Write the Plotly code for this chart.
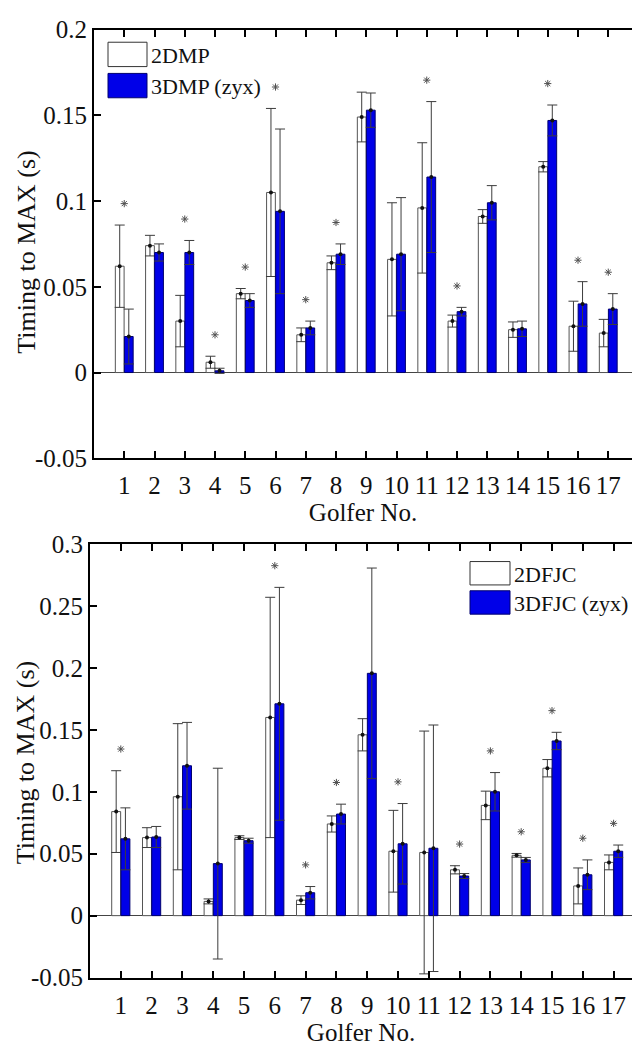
import plotly.graph_objects as go

W, H = 632, 1052

golfers = list(range(1, 18))
tick_text = [str(g) for g in golfers]

# Panel 1: 2DMP vs 3DMP (zyx)
mp2_mean = [0.062, 0.074, 0.030, 0.006, 0.046, 0.105, 0.022, 0.064, 0.149, 0.066, 0.096,
            0.030, 0.091, 0.025, 0.120, 0.027, 0.023]
mp2_sd = [0.024, 0.006, 0.015, 0.0035, 0.003, 0.049, 0.004, 0.004, 0.0145, 0.033, 0.038,
          0.0035, 0.004, 0.0045, 0.003, 0.0146, 0.008]
mp3_mean = [0.021, 0.070, 0.070, 0.001, 0.042, 0.094, 0.026, 0.069, 0.153, 0.069, 0.114,
            0.0355, 0.099, 0.0255, 0.147, 0.040, 0.037]
mp3_sd = [0.016, 0.005, 0.007, 0.0015, 0.004, 0.048, 0.004, 0.006, 0.010, 0.033, 0.044,
          0.0025, 0.010, 0.0045, 0.009, 0.013, 0.009]
mp_sig = [1, 3, 4, 5, 6, 7, 8, 11, 12, 15, 16, 17]

# Panel 2: 2DFJC vs 3DFJC (zyx)
fjc2_mean = [0.084, 0.063, 0.096, 0.0115, 0.063, 0.160, 0.0125, 0.074, 0.146, 0.052, 0.051,
             0.037, 0.089, 0.0487, 0.119, 0.024, 0.043]
fjc2_sd = [0.033, 0.008, 0.059, 0.002, 0.0015, 0.097, 0.0035, 0.0065, 0.013, 0.033, 0.098,
           0.0033, 0.0115, 0.0015, 0.007, 0.0145, 0.006]
fjc3_mean = [0.062, 0.0635, 0.121, 0.042, 0.0605, 0.171, 0.0185, 0.082, 0.1956, 0.058, 0.0544,
             0.032, 0.100, 0.045, 0.141, 0.033, 0.052]
fjc3_sd = [0.025, 0.0085, 0.035, 0.077, 0.002, 0.094, 0.005, 0.008, 0.085, 0.0325, 0.0995,
           0.002, 0.0155, 0.002, 0.007, 0.012, 0.005]
fjc_sig = [1, 6, 7, 8, 10, 12, 13, 14, 15, 16, 17]

series_names = [["2DMP", "3DMP (zyx)"], ["2DFJC", "3DFJC (zyx)"]]
x_title = "Golfer No."
y_title = "Timing to MAX (s)"
fill_colors = ["#ffffff", "#0000e8"]
edge_colors = ["#555555", "#00006e"]

FONT = "'Liberation Serif', 'Times New Roman', 'DejaVu Serif', serif"
OFFSET = 0.15
BAR_W = 0.29


def px_x(p):
    return p / W


def px_y(p):
    return 1 - p / H


panels = [
    dict(means=(mp2_mean, mp3_mean), sds=(mp2_sd, mp3_sd), sig=mp_sig,
         xdom=(94, W), x_unit=30.25, ytop=17, ybot=457, yrange=(-0.05, 0.2),
         ytick=[-0.05, 0, 0.05, 0.1, 0.15, 0.2],
         ytext=["-0.05", "0", "0.05", "0.1", "0.15", "0.2"],
         ylab=(27, 246),
         legend=dict(x=108, y=30, w=39, h=25, gap=7)),
    dict(means=(fjc2_mean, fjc3_mean), sds=(fjc2_sd, fjc3_sd), sig=fjc_sig,
         xdom=(90, W), x_unit=30.8, ytop=545, ybot=990, yrange=(-0.05, 0.3),
         ytick=[-0.05, 0, 0.05, 0.1, 0.15, 0.2, 0.25, 0.3],
         ytext=["-0.05", "0", "0.05", "0.1", "0.15", "0.2", "0.25", "0.3"],
         ylab=(25, 770),
         legend=dict(x=470, y=563, w=40, h=24, gap=6)),
]

fig = go.Figure()
shapes = []
annotations = []

for i, p in enumerate(panels):
    xa = "x" if i == 0 else "x2"
    ya = "y" if i == 0 else "y2"
    for k in range(2):
        xs = [g + (2 * k - 1) * OFFSET for g in golfers]
        fig.add_trace(go.Bar(
            x=xs, y=p["means"][k], width=BAR_W, xaxis=xa, yaxis=ya,
            name=series_names[i][k], showlegend=False,
            marker=dict(color=fill_colors[k], line=dict(color=edge_colors[k], width=1)),
            error_y=dict(type="data", array=p["sds"][k], visible=True,
                         color="#3c3c3c", thickness=1, width=5),
        ))
    # mean markers on top of each bar
    for k in range(2):
        xs = [g + (2 * k - 1) * OFFSET for g in golfers]
        fig.add_trace(go.Scatter(
            x=xs, y=p["means"][k], mode="markers", xaxis=xa, yaxis=ya,
            showlegend=False, hoverinfo="skip",
            marker=dict(color="#111111", size=4),
        ))
    # significance asterisks above the taller whisker
    tops = [max(p["means"][0][j] + p["sds"][0][j], p["means"][1][j] + p["sds"][1][j])
            for j in range(len(golfers))]
    span = p["yrange"][1] - p["yrange"][0]
    sx = [g for g in p["sig"]]
    sy = [tops[g - 1] + 0.05 * span for g in p["sig"]]
    fig.add_trace(go.Scatter(
        x=sx, y=sy, mode="markers", xaxis=xa, yaxis=ya, showlegend=False,
        hoverinfo="skip",
        marker=dict(symbol="asterisk-open", size=6, color="#505050",
                    line=dict(color="#505050", width=1)),
    ))

    # legend: swatches and labels
    lg = p["legend"]
    for k in range(2):
        y0 = lg["y"] + k * (lg["h"] + lg["gap"])
        shapes.append(dict(type="rect", xref="paper", yref="paper",
                           x0=px_x(lg["x"]), x1=px_x(lg["x"] + lg["w"]),
                           y0=px_y(y0 + lg["h"]), y1=px_y(y0),
                           fillcolor=fill_colors[k],
                           line=dict(color=edge_colors[k] if k else "#333333", width=1)))
        annotations.append(dict(xref="paper", yref="paper",
                                x=px_x(lg["x"] + lg["w"] + 2), y=px_y(y0 + lg["h"] / 2 + 1),
                                xanchor="left", yanchor="middle", showarrow=False,
                                text=series_names[i][k],
                                font=dict(family=FONT, size=22, color="#111111")))

    # vertical axis label
    annotations.append(dict(xref="paper", yref="paper",
                            x=px_x(p["ylab"][0]), y=px_y(p["ylab"][1]),
                            xanchor="center", yanchor="middle", showarrow=False,
                            textangle=-90, text=y_title,
                            font=dict(family=FONT, size=26, color="#111111")))

    x_end = (p["xdom"][1] - p["xdom"][0]) / p["x_unit"]
    axis_common = dict(showline=True, linecolor="#000000", linewidth=2,
                       ticks="inside", ticklen=7, tickwidth=2, tickcolor="#000000",
                       showgrid=False, tickfont=dict(family=FONT, size=25, color="#111111"))
    xkey = "xaxis" if i == 0 else "xaxis2"
    ykey = "yaxis" if i == 0 else "yaxis2"
    fig.update_layout({
        xkey: dict(axis_common, domain=[px_x(p["xdom"][0]), 1], range=[0, x_end],
                   anchor=ya, tickmode="array", tickvals=golfers, ticktext=tick_text,
                   mirror="ticks", zeroline=False, ticklabelstandoff=4,
                   title=dict(text=x_title, standoff=2,
                              font=dict(family=FONT, size=25, color="#111111"))),
        ykey: dict(axis_common, domain=[px_y(p["ybot"]), px_y(p["ytop"])],
                   range=list(p["yrange"]), anchor=xa, tickmode="array",
                   tickvals=p["ytick"], ticktext=p["ytext"], mirror=False,
                   zeroline=True, zerolinecolor="#444444", zerolinewidth=1),
    })

fig.update_layout(
    width=W, height=H, margin=dict(l=0, r=0, t=0, b=0),
    paper_bgcolor="#ffffff", plot_bgcolor="#ffffff",
    barmode="overlay", showlegend=False,
    shapes=shapes, annotations=annotations,
)

fig.write_html("out.html")
